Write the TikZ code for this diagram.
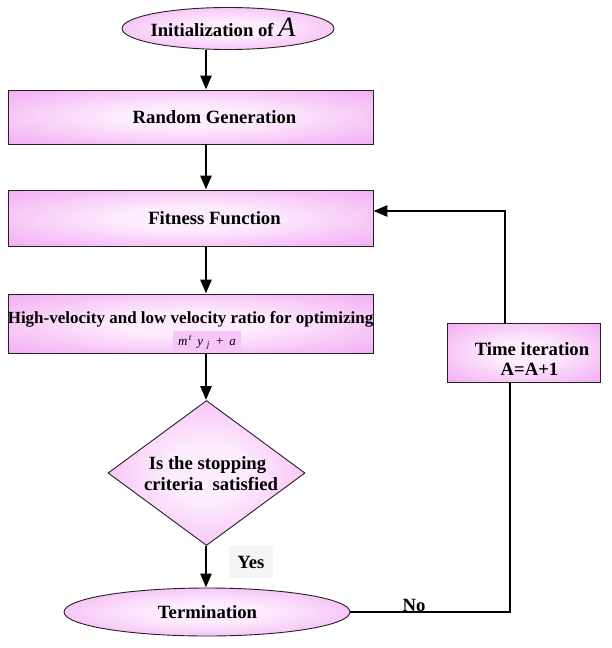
\documentclass[tikz,border=0pt]{standalone}
\usepackage{fontspec}
\setmainfont{Liberation Serif}
\usetikzlibrary{shapes.geometric,arrows.meta}
\definecolor{pinkE}{RGB}{242,166,242}
\definecolor{pinkC}{RGB}{253,236,253}
\definecolor{edgeC}{RGB}{40,30,40}
\pgfdeclareradialshading{pinkglow}{\pgfpoint{0bp}{0bp}}{color(0bp)=(pinkC); color(10bp)=(pinkC); color(38bp)=(pinkE); color(50bp)=(pinkE)}
\tikzset{
  lbl/.style={font=\fontsize{18.7}{22}\selectfont\bfseries, inner sep=0pt},
  box/.style={draw=edgeC, line width=0.9pt, shading=pinkglow, rectangle, inner sep=0pt},
  ell/.style={draw=edgeC, line width=0.9pt, shading=pinkglow, ellipse, inner sep=0pt},
  dia/.style={draw=edgeC, line width=0.9pt, shading=pinkglow, diamond, inner sep=0pt},
  arr/.style={line width=2.6pt, -{Triangle[length=14pt,width=11pt]}},
  conn/.style={line width=2.6pt},
}
\begin{document}
\begin{tikzpicture}[x=1pt,y=-1pt]
\useasboundingbox[fill=white] (0,0) rectangle (612,648);
% shapes
\node[ell, minimum width=212pt, minimum height=42pt] (init) at (228,28.5) {};
\node[box, minimum width=365pt, minimum height=54pt] (rg) at (190.5,117) {};
\node[box, minimum width=365pt, minimum height=56pt] (ff) at (190.5,218) {};
\node[box, minimum width=365pt, minimum height=59pt] (hv) at (190.5,323.5) {};
\node[fill=pinkC!45!pinkE, minimum width=68pt, minimum height=23pt, inner sep=0pt, font=\fontsize{13}{14}\selectfont\itshape] (form) at (207,342.5) {m\textsuperscript{\,t}\, y\,\textsubscript{\,j}\,\ +\ \,a};
\draw[edgeC, line width=0.9pt] (hv.south west) -- (hv.south east);
\node[dia, minimum width=197pt, minimum height=145pt] (dm) at (206.5,473) {};
\node[ell, minimum width=286pt, minimum height=48pt] (term) at (207,612) {};
\node[box, minimum width=153pt, minimum height=59pt] (ti) at (523.5,352.5) {};
% labels
\node[lbl, anchor=base] (initT) at (223,36) {Initialization of \fontsize{28}{28}\selectfont\mdseries\itshape A};
\node[lbl, anchor=base] (rgT) at (214.5,123.3) {Random Generation};
\node[lbl, anchor=base] (ffT) at (214.5,224.5) {Fitness Function};
\node[lbl, anchor=base, font=\fontsize{17}{20}\selectfont\bfseries] (hvT) at (190.5,323) {High-velocity and low velocity ratio for optimizing};
\node[lbl, anchor=base] (dmT1) at (207.5,469) {Is the stopping};
\node[lbl, anchor=base] (dmT2) at (211,490) {criteria\ \ satisfied};
\node[lbl, anchor=base] (termT) at (207.5,618) {Termination};
\node[lbl, anchor=base] (tiT1) at (532,355) {Time iteration};
\node[lbl, anchor=base] (tiT2) at (529.5,375) {A=A+1};
\node[lbl, fill=black!4, minimum width=44pt, minimum height=32pt] (yes) at (251,562) {Yes};
\node[lbl] (no) at (414,605) {No};
\coordinate (loopR) at (510,612);
\coordinate (loopT) at (505,211);
% connectors
\draw[arr] (init.south -| 206,0) -- (rg.north -| 206,0);
\draw[arr] (rg.south -| 206,0) -- (ff.north -| 206,0);
\draw[arr] (ff.south -| 206,0) -- (hv.north -| 206,0);
\draw[arr] (form.south -| 206,0) -- (dm.north -| 206,0);
\draw[arr] (dm.south -| 206,0) -- (term.north -| 206,0);
\draw[conn] (term.east) -- (loopR) -- (loopR |- ti.south);
\draw[arr] (loopT |- ti.north) -- (loopT) -- (ff.east |- loopT);
\end{tikzpicture}
\end{document}
